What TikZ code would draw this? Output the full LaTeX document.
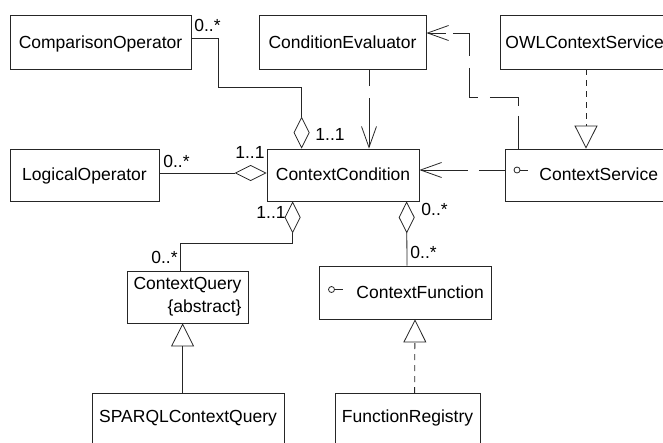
\documentclass[tikz,border=0pt]{standalone}
\usepackage{fontspec}
\setmainfont{Liberation Sans}
\usetikzlibrary{arrows.meta,calc}
\begin{document}
\begin{tikzpicture}[x=1pt,y=-1pt, line width=0.8pt, draw=black!85,
  font=\fontsize{17.5}{23}\selectfont,
  cls/.style={draw, inner xsep=0pt, inner ysep=0pt},
  lbl/.style={inner sep=0pt},
  aggr/.style={{Diamond[open,length=32pt,width=16pt]}-},
  dep/.style={{Straight Barb[length=21pt,width=15pt]}-},
  gen/.style={-{Triangle[open,length=23pt,width=23pt]}},
  real/.style={dash pattern=on 6pt off 5pt, -{Triangle[open,length=23pt,width=23pt]}},
]
\useasboundingbox (0,0) rectangle (663,442);
\clip (0,0) rectangle (663,442);

% classes
\node[cls, minimum width=181pt, text height=33pt, text depth=21pt] (cmp) at (100.5,42) {ComparisonOperator};
\node[cls, minimum width=167pt, text height=33pt, text depth=21pt] (eval) at (342.5,42) {ConditionEvaluator};
\node[cls, anchor=west, inner xsep=5pt, text height=33pt, text depth=21pt] (owl) at (500,42) {OWLContextService\hspace*{5pt}};
\node[cls, minimum width=149pt, text height=31pt, text depth=21pt] (log) at (84.5,175) {LogicalOperator};
\node[cls, minimum width=152pt, text height=31pt, text depth=21pt] (cond) at (343,175) {ContextCondition};
\node[cls, anchor=west, text height=31pt, text depth=21pt] (svc) at (505,175) {\hspace*{34pt}ContextService\hspace*{15pt}};
\node[cls, align=right, inner xsep=6pt, minimum width=121pt, minimum height=52pt] (query) at (187.5,297) {ContextQuery\\\{abstract\}};
\node[cls, anchor=west, text height=32pt, text depth=21pt] (func) at (319,292.5) {\hspace*{37pt}ContextFunction\hspace*{8pt}};
\node[cls, anchor=north, minimum width=192pt, text height=29pt, text depth=27pt] (sparql) at (188,393) {SPARQLContextQuery};
\node[cls, anchor=north, minimum width=145pt, text height=29pt, text depth=27pt] (freg) at (407.5,393) {FunctionRegistry};

% interface lollipops
\draw ($(svc.west)+(12,-5)$) circle (3pt);
\draw ($(svc.west)+(15,-5)$) -- ++(8,0);
\draw ($(func.west)+(12.5,-3)$) circle (3pt);
\draw ($(func.west)+(15.5,-3)$) -- ++(8,0);

% aggregations
\draw[aggr] ($(cond.north west)+(35,0)$) |- (218,87) |- ($(cmp.east)+(0,-4)$);
\draw[aggr] ($(cond.west)+(0,-2)$) -- ($(log.east)+(0,-2)$);
\draw[aggr] ($(cond.south west)+(26,0)$) -- ++(0,42) -| ($(query.north west)+(54,0)$);
\draw[aggr] ($(cond.south west)+(140,0)$) -- ($(func.north west)+(88,0)$);

% dependencies
\draw[dep, dash pattern=on 49pt off 12pt] ($(cond.north)+(26,0)$) -- ($(eval.south)+(26.5,0)$);
\draw[dep, dash pattern=on 18pt off 7pt on 39pt off 12pt on 38pt off 12pt on 37pt off 10pt on 60pt]
  ($(eval.east)+(0,-9)$) -| (469,97) -| ($(svc.north west)+(13,0)$);
\draw[dep, dash pattern=on 47pt off 11pt] ($(cond.east)+(0,-5)$) -- ($(svc.west)+(0,-5)$);

% generalization / realization
\draw[gen] ($(sparql.north west)+(91,0)$) -- ($(query.south west)+(56,0)$);
\draw[real] ($(freg.north west)+(80,0)$) -- ($(func.south west)+(96,0)$);
\draw[real] ($(owl.south west)+(86,0)$) -- ($(svc.north west)+(81,0)$);

% multiplicities
\node[lbl, anchor=base west] (m1) at (194,31) {0..*};
\node[lbl, anchor=base west] (m2) at (315,140) {1..1};
\node[lbl, anchor=base west] (m3) at (163,167) {0..*};
\node[lbl, anchor=base west] (m4) at (235,158) {1..1};
\node[lbl, anchor=base east] (m5) at (286,218) {1..1};
\node[lbl, anchor=base east] (m6) at (178,263) {0..*};
\node[lbl, anchor=base west] (m7) at (421,215) {0..*};
\node[lbl, anchor=base west] (m8) at (410,258) {0..*};
\end{tikzpicture}
\end{document}
